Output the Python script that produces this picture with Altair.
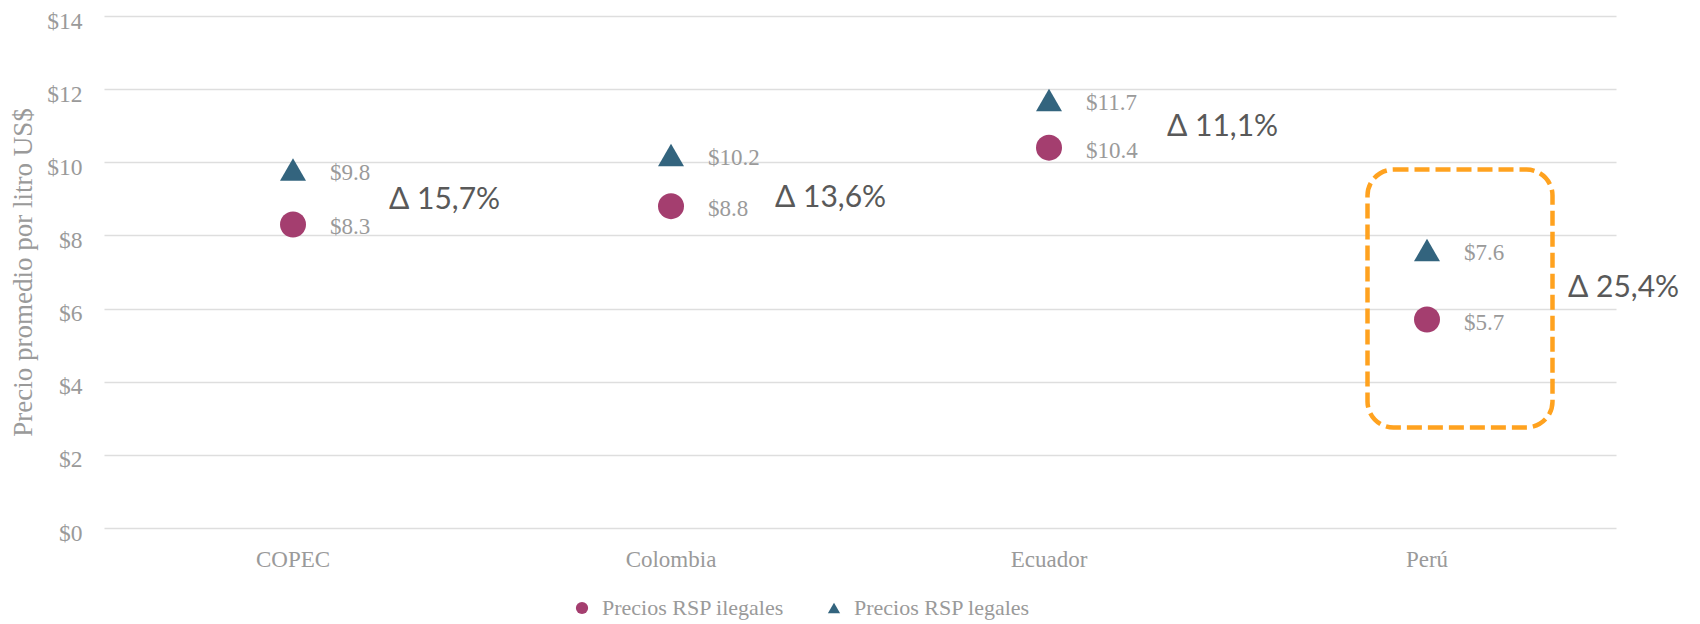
import altair as alt
import pandas as pd

# ---------------- data ----------------
categorias = ["COPEC", "Colombia", "Ecuador", "Perú"]
precios_ilegales = [8.3, 8.8, 10.4, 5.7]
precios_legales = [9.8, 10.2, 11.7, 7.6]
deltas = ["Δ 15,7%", "Δ 13,6%", "Δ 11,1%", "Δ 25,4%"]
series = ["Precios RSP ilegales", "Precios RSP legales"]
y_ticks = [0, 2, 4, 6, 8, 10, 12, 14]
destacado = "Perú"
caja_sup, caja_inf = 9.8, 2.75

# ---------------- layout / style constants ----------------
DELTA_DX = [96, 104, 118, 141]
DELTA_DY = [3, 17, 3, 3]
SERIF = "Liberation Serif"
SANS = "Lato"
GRAY = "#9A9A9A"
COLORS = ["#A43E6F", "#33647E"]
SHAPES = ["circle", "triangle-up"]

rows = []
for c, il, le in zip(categorias, precios_ilegales, precios_legales):
    rows.append({"categoria": c, "serie": series[0], "valor": il})
    rows.append({"categoria": c, "serie": series[1], "valor": le})
df = pd.DataFrame(rows)

df_delta = pd.DataFrame({
    "categoria": categorias,
    "texto": deltas,
    "mid": [(a + b) / 2 for a, b in zip(precios_ilegales, precios_legales)],
})

xscale = alt.Scale(domain=categorias, paddingInner=0, paddingOuter=0)
yscale = alt.Scale(domain=[0, 14], nice=False)

x_enc = alt.X("categoria:N", scale=xscale, sort=categorias,
              axis=alt.Axis(title=None, labelAngle=0, labelAlign="center", labelBaseline="top",
                            labelFont=SERIF, labelFontSize=23,
                            labelColor=GRAY, labelPadding=20, ticks=False, domain=False,
                            grid=False))
y_enc = alt.Y("valor:Q", scale=yscale,
              axis=alt.Axis(title="Precio promedio por litro US$", values=y_ticks,
                            labelExpr="'$' + datum.value", labelFont=SERIF, labelFontSize=23.5,
                            labelColor=GRAY, labelPadding=22, labelOffset=5, ticks=False,
                            domain=False,
                            grid=True, gridColor="#DEDEDE", gridWidth=1.5,
                            titleFont=SERIF, titleFontSize=27, titleFontWeight="normal",
                            titleColor=GRAY, titleX=-81, titleY=256, titleAngle=270,
                            titleAlign="center", titleBaseline="middle"))

base = alt.Chart(df)

points = base.mark_point(filled=True, opacity=1, size=676, strokeWidth=0).encode(
    x=x_enc,
    y=y_enc,
    color=alt.Color("serie:N", scale=alt.Scale(domain=series, range=COLORS),
                    legend=alt.Legend(title=None, orient="none", direction="horizontal",
                                      legendX=467, legendY=581, labelFont=SERIF,
                                      labelFontSize=22, labelColor=GRAY, symbolSize=150,
                                      labelOffset=9, columnPadding=38, padding=0,
                                      labelLimit=0, symbolStrokeWidth=0)),
    shape=alt.Shape("serie:N", scale=alt.Scale(domain=series, range=SHAPES)),
)

labels = base.mark_text(align="left", baseline="middle", dx=37, dy=3, font=SERIF,
                        fontSize=23, color=GRAY).encode(
    x=alt.X("categoria:N", scale=xscale, sort=categorias),
    y=alt.Y("valor:Q", scale=yscale),
    text=alt.Text("valor:Q", format="$.1f"),
)

delta_layers = []
for i in range(len(categorias)):
    delta_layers.append(
        alt.Chart(df_delta.iloc[[i]]).mark_text(
            align="left", baseline="middle", dx=DELTA_DX[i], dy=DELTA_DY[i],
            font=SANS, fontSize=30, color="#595959").encode(
            x=alt.X("categoria:N", scale=xscale, sort=categorias),
            y=alt.Y("mid:Q", scale=yscale),
            text="texto:N",
        )
    )

box = alt.Chart(pd.DataFrame({"categoria": [destacado], "top": [caja_sup], "bot": [caja_inf]})).mark_rect(
    fill="transparent", stroke="#FFA21F", strokeWidth=4.5, strokeDash=[15, 6],
    cornerRadius=26, width=185, xOffset=33).encode(
    x=alt.X("categoria:N", scale=xscale, sort=categorias),
    y=alt.Y("top:Q", scale=yscale),
    y2="bot:Q",
)

chart = alt.layer(box, points, labels, *delta_layers).properties(
    width=1512, height=512,
    padding={"left": 96, "top": 8, "right": 76, "bottom": 96},
    autosize=alt.AutoSizeParams(type="none"),
).configure_view(stroke=None)

chart.save("out.html", embed_options={"renderer": "svg", "actions": False})
